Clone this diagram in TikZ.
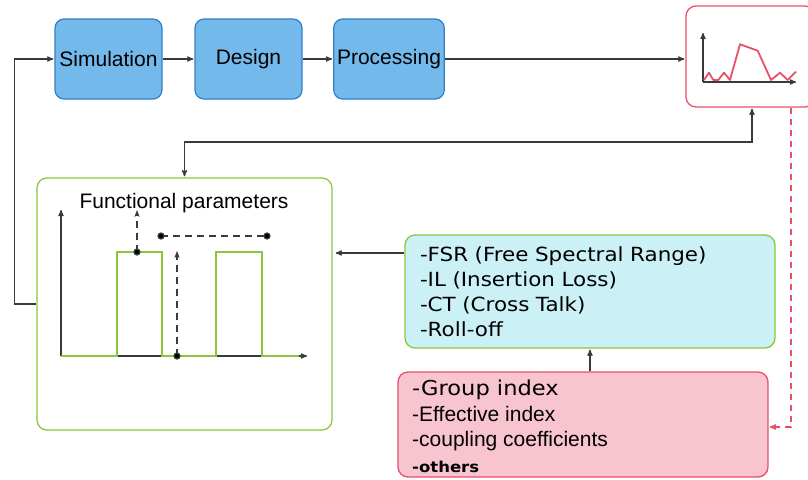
\documentclass[tikz,border=0pt]{standalone}
\usepackage{fontspec}
\setmainfont{Liberation Sans}
\newfontfamily\listfont[FakeStretch=1.1]{DejaVu Sans}
\usepackage{tikz}
\usetikzlibrary{arrows,arrows.meta}
\definecolor{stagefill}{HTML}{74B9EC}
\definecolor{stageline}{HTML}{2F80C6}
\definecolor{specred}{HTML}{E8506A}
\definecolor{paramgreen}{HTML}{8CC63F}
\definecolor{listfill}{HTML}{CBF1F6}
\definecolor{pinkfill}{HTML}{F8C4D0}
\definecolor{wire}{HTML}{3A3A3A}

\begin{document}
\begin{tikzpicture}[x=1pt,y=-1pt,>=stealth',shorten >=1pt,
    stage/.style={draw=stageline,fill=stagefill,line width=1.2pt,rounded corners=9pt,
      minimum width=107pt,minimum height=80pt,font=\fontsize{21}{25}\selectfont},
    panel/.style={line width=1.3pt,rounded corners=10pt,inner sep=0pt},
    wire/.style={draw=wire,line width=1.2pt},
    marker/.style={draw=wire,line width=2pt,dash pattern=on 7pt off 5pt,shorten >=0pt}]
  \useasboundingbox (0,0) rectangle (808,479);

  % top row
  \node[stage] (sim)  at (108.5,59) {Simulation};
  \node[stage] (des)  at (248.5,59) {Design};
  \node[stage] (proc) at (389,59)   {Processing};

  % measured spectrum
  \node[panel,draw=specred,fill=white,minimum width=129pt,minimum height=101pt] (spec) at (750.5,56.5) {};
  \draw[wire,->] (703,82) -- (703,32);
  \draw[wire,->] (703,82) -- (797,82);
  \draw[specred,line width=1.8pt,line join=round]
    (704,80) -- (709,72.7) -- (713.3,80) -- (718.3,80) -- (724,72.7) -- (730,80)
    -- (740,44.3) -- (757.7,50.7) -- (771,80) -- (780,72.7) -- (787.7,80) -- (796.7,71);

  % functional parameters
  \node[panel,draw=paramgreen,fill=white,minimum width=295pt,minimum height=252pt] (func) at (184.5,304) {};
  \node (functitle) at (184,203) {\fontsize{21}{25}\selectfont Functional parameters};
  \draw[wire,->] (61,356) -- (61,209);
  \draw[wire,->] (61,356) -- (308,356);
  \draw[paramgreen,line width=1.3pt]
    (61,356) -- (117,356) -- (117,252) -- (162,252) -- (162,356) -- (216,356)
    -- (216,252) -- (262,252) -- (262,356) -- (300,356);
  \draw[marker,-{Stealth[length=7pt]}] (137,252) -- (137,210);
  \draw[marker] (161,236) -- (267,236);
  \draw[marker,-{Stealth[length=7pt]}] (177,356) -- (177,251);
  \foreach \px/\py in {137/252,161/236,267/236,177/356}
    \fill[wire] (\px,\py) circle (3pt);

  % parameter lists
  \node[panel,draw=paramgreen,fill=listfill,minimum width=370pt,minimum height=113pt,
    text width=340pt,align=left,font=\listfont\fontsize{19.5}{25}\selectfont] (fsr) at (590,291.5)
    {-FSR (Free Spectral Range)\\-IL (Insertion Loss)\\-CT (Cross Talk)\\-Roll-off};
  \node[panel,draw=specred,fill=pinkfill,minimum width=370pt,minimum height=105pt] (grp) at (583,424.5) {};
  \node[anchor=north west,align=left,inner sep=0pt,font=\fontsize{21}{25.5}\selectfont] (grptext) at (412,380)
    {{\listfont\fontsize{20.5}{25.5}\selectfont -Group index}\\
     -Effective index\\
     -coupling coefficients\\
     {\listfont\bfseries\fontsize{15}{25.5}\selectfont -others}};

  % connectors
  \draw[wire,->] (sim) -- (des);
  \draw[wire,->] (des) -- (proc);
  \draw[wire,->] (proc.east) -- (proc.east -| spec.west);
  \draw[wire,->] (func.west) -- ++(-22,0) |- (sim.west);
  \coordinate (turn) at (752,142);
  \draw[wire,<->,shorten <=1pt] (func.north) |- (turn) -- (turn |- spec.south);
  \draw[wire,->,shorten >=3pt] ([yshift=38.5pt]fsr.west) -- ([yshift=51pt]func.east);
  \draw[wire,->] (fsr.south |- grp.north) -- (fsr.south);
  \draw[specred,line width=1.3pt,dash pattern=on 6pt off 5pt,->]
    ([xshift=40.5pt]spec.south) |- ([yshift=-2.5pt]grp.east);
\end{tikzpicture}
\end{document}
